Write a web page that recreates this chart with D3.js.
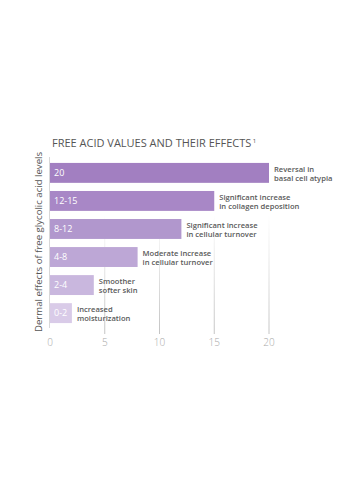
<!DOCTYPE html>
<html>
<head>
<meta charset="utf-8">
<script src="https://cdn.jsdelivr.net/npm/d3@7"></script>
<style>
  html, body { margin: 0; padding: 0; background: #fff; }
  svg { display: block; }
</style>
</head>
<body>
<svg id="chart" width="350" height="477"></svg>
<script>
// Free glycolic acid levels and their dermal effects
const categories = ["20", "12-15", "8-12", "4-8", "2-4", "0-2"];
const values = [20, 15, 12, 8, 4, 2];
const effectsLine1 = ["Reversal in", "Significant increase", "Significant increase", "Moderate increase", "Smoother", "Increased"];
const effectsLine2 = ["basal cell atypia", "in collagen deposition", "in cellular turnover", "in cellular turnover", "softer skin", "moisturization"];
const barColors = ["#a27fc1", "#a887c6", "#b197cd", "#bda7d6", "#c9b7de", "#d9cbe8"];
const tickValues = [0, 5, 10, 15, 20];

const svg = d3.select("#chart");
const font = "'Open Sans', sans-serif";

const x = d3.scaleLinear().domain([0, 20]).range([50, 269]);
const y = d3.scaleBand().domain(categories).range([159, 327]).paddingInner(0.29).paddingOuter(0.14);

// Gridlines fade in towards the axis
const defs = svg.append("defs");
const grad = defs.append("linearGradient")
  .attr("id", "gridFade").attr("gradientUnits", "userSpaceOnUse")
  .attr("x1", 0).attr("y1", 215).attr("x2", 0).attr("y2", 334);
grad.append("stop").attr("offset", 0).attr("stop-color", "#c4c4c4").attr("stop-opacity", 0);
grad.append("stop").attr("offset", 1).attr("stop-color", "#c4c4c4").attr("stop-opacity", 1);

svg.append("g").selectAll("line")
  .data(tickValues.slice(1))
  .join("line")
  .attr("x1", d => x(d)).attr("x2", d => x(d))
  .attr("y1", 215).attr("y2", 334)
  .attr("stroke", "url(#gridFade)").attr("stroke-width", 1);

// Vertical axis line
svg.append("line")
  .attr("x1", x(0) - 0.5).attr("x2", x(0) - 0.5)
  .attr("y1", 157).attr("y2", 328)
  .attr("stroke", "#d8d8d8").attr("stroke-width", 1);

// Bars
const rows = categories.map((c, i) => ({ c, v: values[i], l1: effectsLine1[i], l2: effectsLine2[i], color: barColors[i] }));

svg.append("g").selectAll("rect")
  .data(rows)
  .join("rect")
  .attr("x", x(0))
  .attr("y", d => y(d.c))
  .attr("width", d => x(d.v) - x(0))
  .attr("height", y.bandwidth())
  .attr("fill", d => d.color);

// Range labels inside bars
svg.append("g").selectAll("text")
  .data(rows)
  .join("text")
  .attr("x", x(0) + 4)
  .attr("y", d => y(d.c) + y.bandwidth() / 2)
  .attr("dy", "0.35em")
  .attr("fill", "#fff")
  .attr("font-family", font)
  .attr("font-size", 9)
  .attr("font-weight", 500)
  .text(d => d.c);

// Effect labels to the right of bars
const eff = svg.append("g").selectAll("text")
  .data(rows)
  .join("text")
  .attr("x", d => x(d.v) + 5)
  .attr("y", d => y(d.c) + y.bandwidth() / 2)
  .attr("fill", "#5a5a5a")
  .attr("font-family", font)
  .attr("font-size", 7.6)
  .attr("font-weight", 600);
eff.append("tspan").attr("dy", -1.2).text(d => d.l1);
eff.append("tspan").attr("x", d => x(d.v) + 5).attr("dy", 9.2).text(d => d.l2);

// X tick labels
svg.append("g").selectAll("text")
  .data(tickValues)
  .join("text")
  .attr("x", d => x(d))
  .attr("y", 346)
  .attr("text-anchor", "middle")
  .attr("fill", "#a8a8a8")
  .attr("font-family", font)
  .attr("font-size", 10)
  .attr("font-weight", 300)
  .text(d => d);

// Y axis title
svg.append("text")
  .attr("transform", `translate(42, ${(157 + 327) / 2}) rotate(-90)`)
  .attr("text-anchor", "middle")
  .attr("fill", "#555")
  .attr("font-family", font)
  .attr("font-size", 9.6)
  .attr("font-weight", 500)
  .text("Dermal effects of free glycolic acid levels");

// Chart title
const title = svg.append("text")
  .attr("x", 52)
  .attr("y", 147)
  .attr("fill", "#555")
  .attr("font-family", font)
  .attr("font-size", 11)
  .attr("font-weight", 500)
  .text("FREE ACID VALUES AND THEIR EFFECTS");
title.append("tspan").attr("font-size", 6).attr("dy", -4.5).attr("dx", 1.5).text("1");
</script>
</body>
</html>
